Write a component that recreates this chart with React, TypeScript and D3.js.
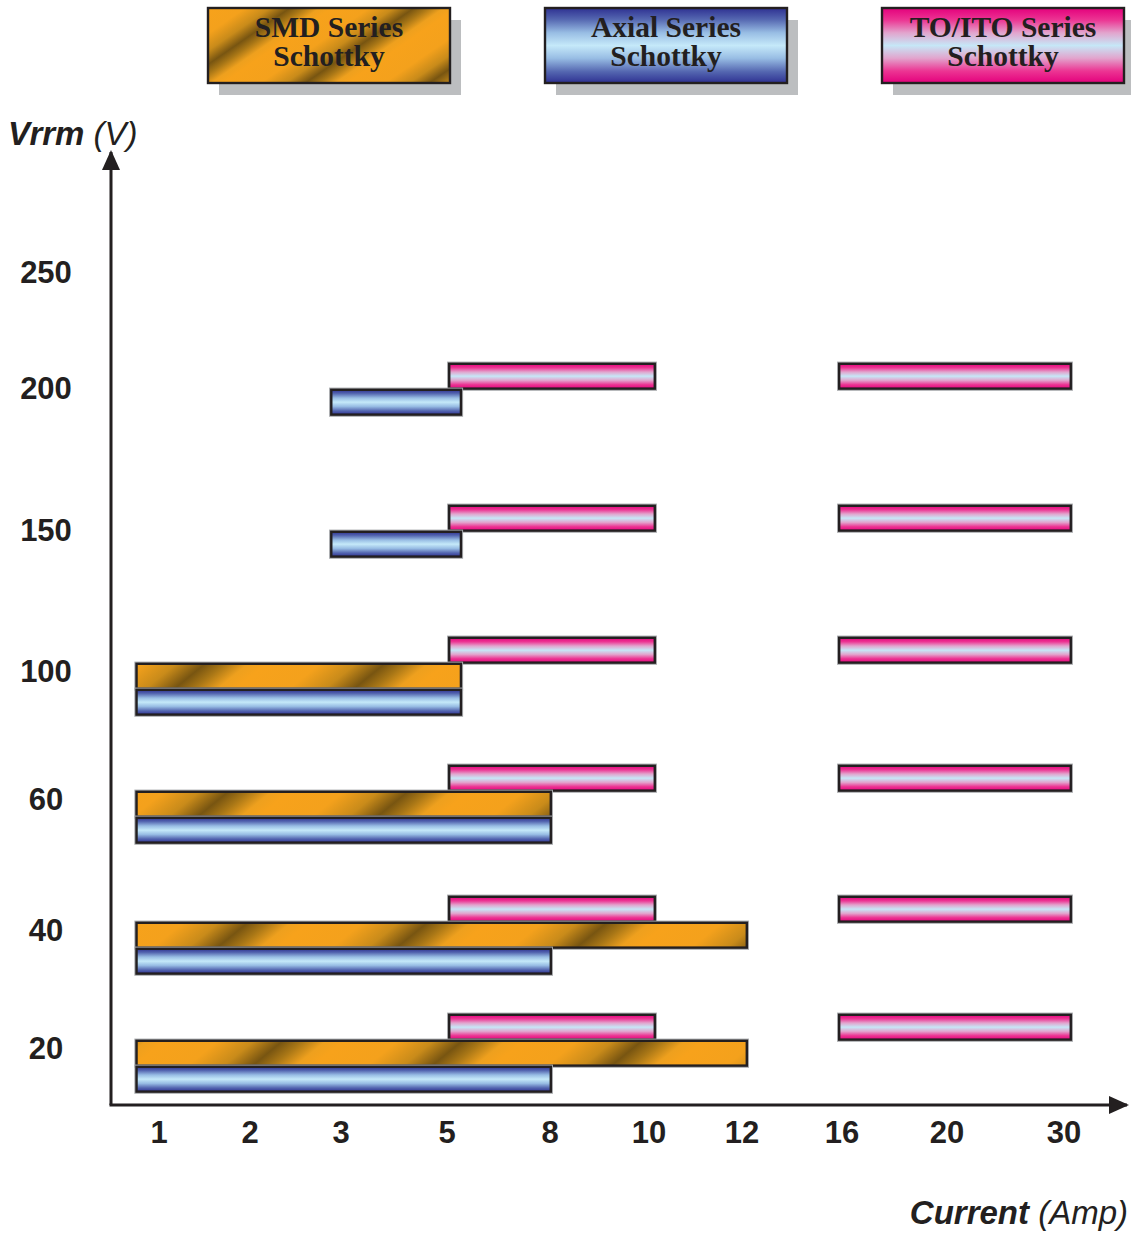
import React from 'react';
import * as d3 from 'd3';

// ---------- data ----------
const CURRENT_TICKS = [1, 2, 3, 5, 8, 10, 12, 16, 20, 30];
const VOLTAGE_TICKS = [20, 40, 60, 100, 150, 200, 250];

const LEGEND_KEYS = ['smd', 'axial', 'to'];
const LEGEND_LINE1 = ['SMD Series', 'Axial Series', 'TO/ITO Series'];
const LEGEND_LINE2 = ['Schottky', 'Schottky', 'Schottky'];

// current ranges (Amp, as drawn on the axis) per Vrrm class
const SMD_V = [100, 60, 40, 20];
const SMD_FROM = [0.74, 0.74, 0.74, 0.74];
const SMD_TO = [5.44, 8.04, 12.24, 12.24];

const AXIAL_V = [200, 150, 100, 60, 40, 20];
const AXIAL_FROM = [2.88, 2.88, 0.74, 0.74, 0.74, 0.74];
const AXIAL_TO = [5.44, 5.44, 5.44, 8.04, 8.04, 8.04];

const TO_V = [200, 150, 100, 60, 40, 20];
const TO_LOW_FROM = [5.03, 5.03, 5.03, 5.03, 5.03, 5.03];
const TO_LOW_TO = [10.15, 10.15, 10.15, 10.15, 10.15, 10.15];
const TO_HIGH_FROM = [15.84, 15.84, 15.84, 15.84, 15.84, 15.84];
const TO_HIGH_TO = [30.68, 30.68, 30.68, 30.68, 30.68, 30.68];

// ---------- layout ----------
const W = 1131;
const H = 1233;
const AXIS_X0 = 111;
const AXIS_Y0 = 1105;
const X_TICK_PX = [159, 250, 341, 447, 550, 649, 742, 842, 947, 1064];
const Y_ROW_PX = [1040, 922, 791, 663, 531, 389, 273];
const ROW = 26;
const LEGEND_X = [208, 545, 882];
const LEGEND_Y = 8;
const LEGEND_W = 242;
const LEGEND_H = 75;
const INK = '#231f20';
const SANS = '"Liberation Sans", Arial, Helvetica, sans-serif';
const SERIF = '"Liberation Serif", "Times New Roman", serif';

const x = d3.scaleLinear().domain(CURRENT_TICKS).range(X_TICK_PX);
const y = d3.scaleLinear().domain(VOLTAGE_TICKS).range(Y_ROW_PX);

type Bar = { v: number; from: number; to: number; row: number; fill: string };

const pinkBars: Bar[] = [
  ...TO_V.map((v, i) => ({ v, from: TO_LOW_FROM[i], to: TO_LOW_TO[i], row: -1, fill: 'url(#pinkBar)' })),
  ...TO_V.map((v, i) => ({ v, from: TO_HIGH_FROM[i], to: TO_HIGH_TO[i], row: -1, fill: 'url(#pinkBar)' })),
];
const orangeBars: Bar[] = SMD_V.map((v, i) => ({ v, from: SMD_FROM[i], to: SMD_TO[i], row: 0, fill: 'url(#orangeBar)' }));
const blueBars: Bar[] = AXIAL_V.map((v, i) => ({
  v,
  from: AXIAL_FROM[i],
  to: AXIAL_TO[i],
  row: SMD_V.includes(v) ? 1 : 0,
  fill: 'url(#blueBar)',
}));

// label centre offset: groups with three rows are labelled slightly lower
const labelOffset = (v: number) => (SMD_V.includes(v) ? 8 : -1);

function BarRect({ b }: { b: Bar }) {
  const x0 = x(b.from);
  const x1 = x(b.to);
  const yy = y(b.v) + b.row * ROW;
  return (
    <g>
      <rect x={x0 + 1.2} y={yy + 0.8} width={x1 - x0 - 2.4} height={ROW - 1.2} fill="none" stroke="#a7a9ac" strokeWidth={4.4} />
      <rect x={x0 + 1.2} y={yy + 0.8} width={x1 - x0 - 2.4} height={ROW - 1.2} fill={b.fill} stroke={INK} strokeWidth={2.4} />
    </g>
  );
}

function pinkStops() {
  return [
    <stop key="0" offset="0" stopColor="#e4007c" />,
    <stop key="1" offset="0.16" stopColor="#ec3593" />,
    <stop key="2" offset="0.33" stopColor="#e2a4cd" />,
    <stop key="3" offset="0.5" stopColor="#c6e7f7" />,
    <stop key="4" offset="0.67" stopColor="#e2a4cd" />,
    <stop key="5" offset="0.84" stopColor="#ec3593" />,
    <stop key="6" offset="1" stopColor="#e4007c" />,
  ];
}
function blueStops() {
  return [
    <stop key="0" offset="0" stopColor="#2e3192" />,
    <stop key="1" offset="0.15" stopColor="#5466b0" />,
    <stop key="2" offset="0.33" stopColor="#98bde4" />,
    <stop key="3" offset="0.5" stopColor="#c5e9f9" />,
    <stop key="4" offset="0.67" stopColor="#98bde4" />,
    <stop key="5" offset="0.85" stopColor="#5466b0" />,
    <stop key="6" offset="1" stopColor="#2e3192" />,
  ];
}
function orangeStops() {
  return [
    <stop key="0" offset="0" stopColor="#f7a21b" />,
    <stop key="1" offset="0.3" stopColor="#f4a11c" />,
    <stop key="2" offset="0.5" stopColor="#c98b1a" />,
    <stop key="3" offset="0.66" stopColor="#785511" />,
    <stop key="4" offset="0.77" stopColor="#a87616" />,
    <stop key="5" offset="0.9" stopColor="#eea01e" />,
    <stop key="6" offset="1" stopColor="#f7a21b" />,
  ];
}

export default function App() {
  const legendFill = ['url(#orangeLegend)', 'url(#blueLegend)', 'url(#pinkLegend)'];
  return (
    <svg
      width={W}
      height={H}
      viewBox={`0 0 ${W} ${H}`}
      style={{ position: 'absolute', left: 0, top: 0, display: 'block', background: '#fff' }}
    >
      <defs>
        <linearGradient id="pinkBar" x1="0" y1="0" x2="0" y2="1">{pinkStops()}</linearGradient>
        <linearGradient id="blueBar" x1="0" y1="0" x2="0" y2="1">{blueStops()}</linearGradient>
        <linearGradient id="pinkLegend" x1="0" y1="0" x2="0" y2="1">{pinkStops()}</linearGradient>
        <linearGradient id="blueLegend" x1="0" y1="0" x2="0" y2="1">{blueStops()}</linearGradient>
        <linearGradient id="orangeBar" gradientUnits="userSpaceOnUse" x1="0" y1="0" x2="72" y2="88" spreadMethod="repeat">
          {orangeStops()}
        </linearGradient>
        <linearGradient id="orangeLegend" gradientUnits="userSpaceOnUse" x1="208" y1="8" x2="248" y2="66" spreadMethod="repeat">
          {orangeStops()}
        </linearGradient>
        <marker id="arrow" viewBox="0 0 20 18" refX="18" refY="9" markerWidth="20" markerHeight="18" markerUnits="userSpaceOnUse" orient="auto">
          <path d="M0,0 L20,9 L0,18 Z" fill={INK} />
        </marker>
      </defs>

      {/* legend */}
      {LEGEND_KEYS.map((k, i) => (
        <g key={k}>
          <rect x={LEGEND_X[i] + 11} y={LEGEND_Y + 12} width={LEGEND_W} height={LEGEND_H} fill="#bcbec0" />
          <rect x={LEGEND_X[i]} y={LEGEND_Y} width={LEGEND_W} height={LEGEND_H} fill={legendFill[i]} stroke={INK} strokeWidth={2.4} />
          <text
            x={LEGEND_X[i] + LEGEND_W / 2}
            y={LEGEND_Y + 29}
            textAnchor="middle"
            fontFamily={SERIF}
            fontWeight="bold"
            fontSize={29.5}
            fill={INK}
          >
            {LEGEND_LINE1[i]}
          </text>
          <text
            x={LEGEND_X[i] + LEGEND_W / 2}
            y={LEGEND_Y + 58}
            textAnchor="middle"
            fontFamily={SERIF}
            fontWeight="bold"
            fontSize={29.5}
            fill={INK}
          >
            {LEGEND_LINE2[i]}
          </text>
        </g>
      ))}

      {/* axis titles */}
      <text x={8} y={145} fontFamily={SANS} fontSize={33} fill={INK} fontStyle="italic">
        <tspan fontWeight="bold">Vrrm</tspan>
        <tspan> (V)</tspan>
      </text>
      <text x={1128} y={1224} textAnchor="end" fontFamily={SANS} fontSize={33} fill={INK} fontStyle="italic">
        <tspan fontWeight="bold">Current</tspan>
        <tspan> (Amp)</tspan>
      </text>

      {/* bars */}
      {pinkBars.map((b, i) => <BarRect key={'p' + i} b={b} />)}
      {orangeBars.map((b, i) => <BarRect key={'o' + i} b={b} />)}
      {blueBars.map((b, i) => <BarRect key={'b' + i} b={b} />)}

      {/* axes */}
      <line x1={AXIS_X0} y1={AXIS_Y0} x2={AXIS_X0} y2={152} stroke={INK} strokeWidth={3} markerEnd="url(#arrow)" />
      <line x1={AXIS_X0 - 1.5} y1={AXIS_Y0} x2={1127} y2={AXIS_Y0} stroke={INK} strokeWidth={3} markerEnd="url(#arrow)" />

      {/* tick labels */}
      {CURRENT_TICKS.map((t) => (
        <text key={'x' + t} x={x(t)} y={1143} textAnchor="middle" fontFamily={SANS} fontWeight="bold" fontSize={31} fill={INK}>
          {t}
        </text>
      ))}
      {VOLTAGE_TICKS.map((t) => (
        <text
          key={'y' + t}
          x={46}
          y={y(t) + labelOffset(t)}
          dy="0.36em"
          textAnchor="middle"
          fontFamily={SANS}
          fontWeight="bold"
          fontSize={31}
          fill={INK}
        >
          {t}
        </text>
      ))}
    </svg>
  );
}
